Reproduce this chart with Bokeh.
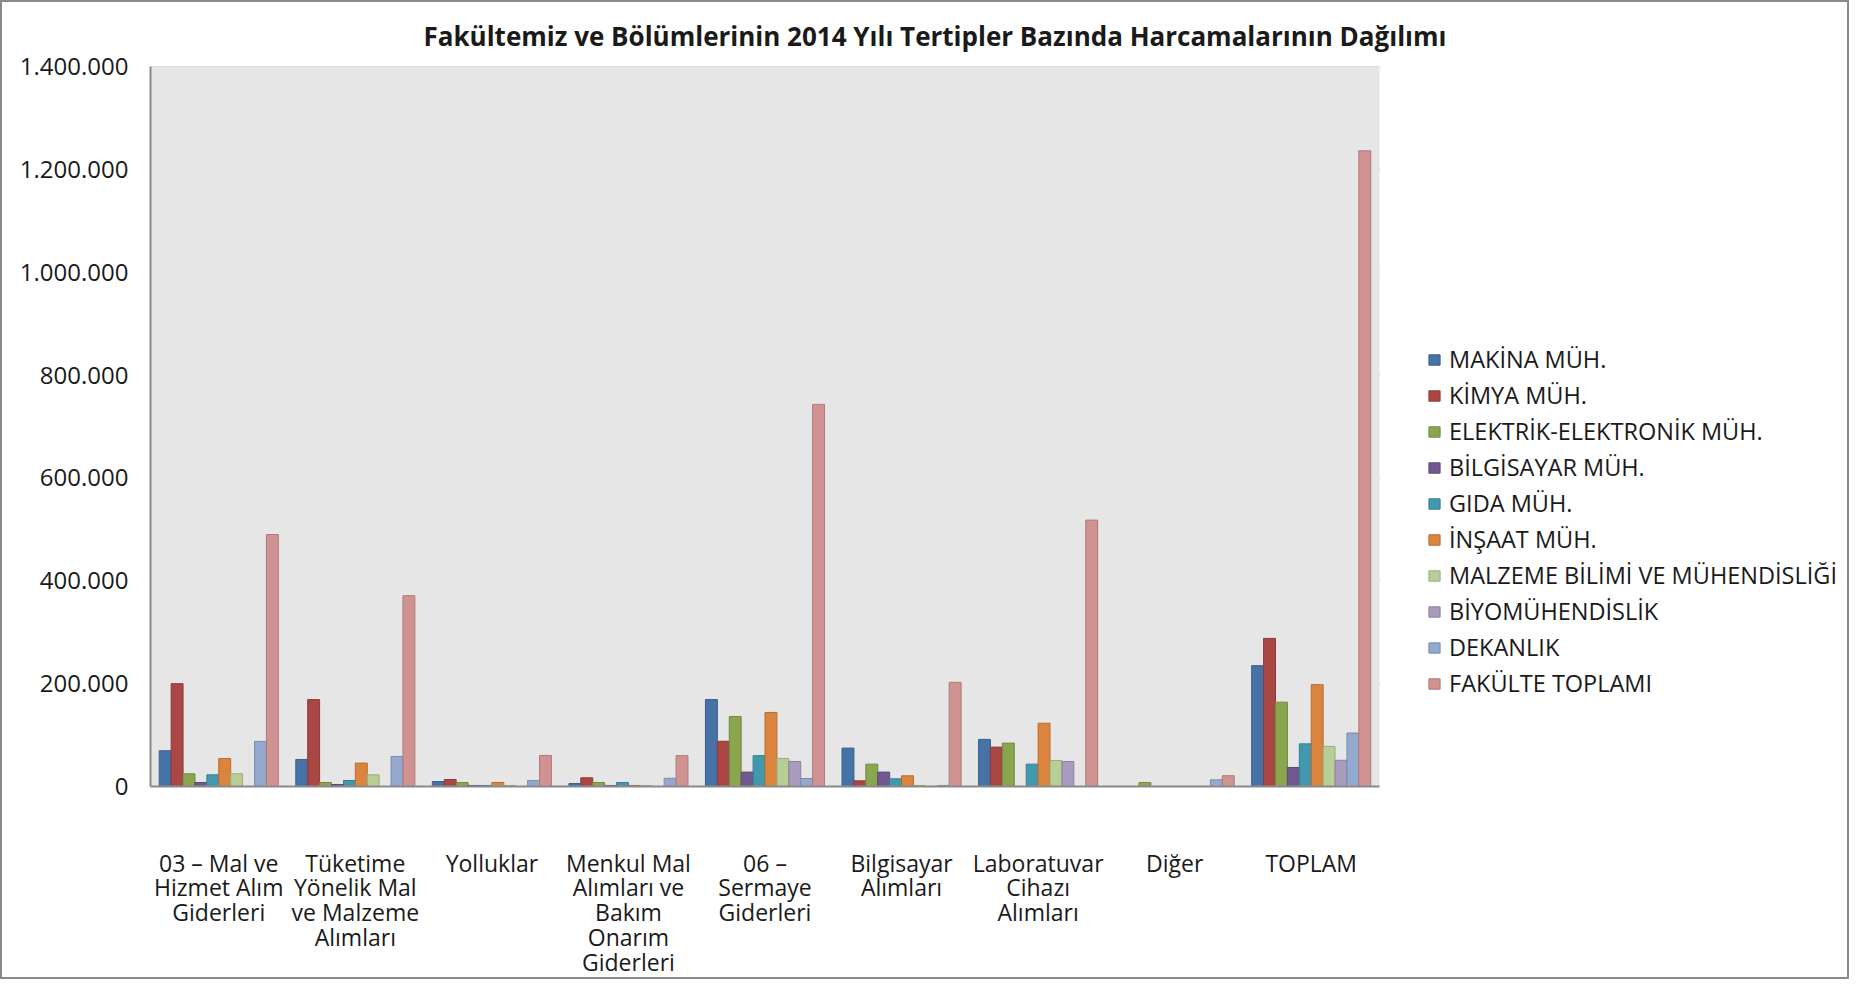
from bokeh.plotting import figure
from bokeh.models import (Range1d, ColumnDataSource, FixedTicker, Legend, LegendItem, Title,
                          BoxAnnotation)
from bokeh.transform import dodge
from bokeh.embed import file_html
from bokeh.resources import INLINE

title_text = "Fakültemiz ve Bölümlerinin 2014 Yılı Tertipler Bazında Harcamalarının Dağılımı"

categories = [
    "03 – Mal ve\nHizmet Alım\nGiderleri",
    "Tüketime\nYönelik Mal\nve Malzeme\nAlımları",
    "Yolluklar",
    "Menkul Mal\nAlımları ve\nBakım\nOnarım\nGiderleri",
    "06 –\nSermaye\nGiderleri",
    "Bilgisayar\nAlımları",
    "Laboratuvar\nCihazı\nAlımları",
    "Diğer",
    "TOPLAM",
]

series_names = [
    "MAKİNA MÜH.",
    "KİMYA MÜH.",
    "ELEKTRİK-ELEKTRONİK MÜH.",
    "BİLGİSAYAR MÜH.",
    "GIDA MÜH.",
    "İNŞAAT MÜH.",
    "MALZEME BİLİMİ VE MÜHENDİSLİĞİ",
    "BİYOMÜHENDİSLİK",
    "DEKANLIK",
    "FAKÜLTE TOPLAMI",
]

makina     = [69500, 52600, 9700, 5800, 169000, 74700, 91600, 0, 235000]
kimya      = [200000, 169000, 13600, 16900, 88000, 11000, 76600, 0, 288000]
elektrik   = [24700, 7800, 7800, 7800, 136000, 43500, 84400, 7800, 164000]
bilgisayar = [7800, 3900, 2000, 2000, 28000, 28000, 0, 0, 37000]
gida       = [22700, 11700, 2000, 7800, 60000, 15000, 43500, 0, 83000]
insaat     = [54500, 45500, 7800, 2000, 144000, 20800, 123000, 0, 198000]
malzeme    = [24700, 22700, 2000, 1500, 54500, 2000, 50600, 0, 78000]
biyomuh    = [0, 0, 0, 0, 48700, 0, 48700, 0, 51000]
dekanlik   = [87700, 58400, 11700, 16000, 15600, 2000, 0, 13000, 104000]
fakulte    = [490000, 371000, 60400, 60000, 743000, 202600, 518000, 21000, 1236000]

series_values = [makina, kimya, elektrik, bilgisayar, gida, insaat, malzeme, biyomuh, dekanlik, fakulte]

fill_colors = ["#4572A7", "#AA4643", "#89A54E", "#71588F", "#4198AF", "#DB843D",
               "#B9CD96", "#A99BBD", "#93A9CF", "#D19392"]
line_colors = ["#3A5F8C", "#8E3A38", "#718A40", "#5E4977", "#367F92", "#B66D32",
               "#9AAB7D", "#8D819D", "#7A8DAC", "#AE7A79"]

y_ticks = [0, 200000, 400000, 600000, 800000, 1000000, 1200000, 1400000]
y_tick_labels = ["0", "200.000", "400.000", "600.000", "800.000", "1.000.000", "1.200.000", "1.400.000"]

n_cat = len(categories)
cat_pos = [i + 0.5 for i in range(n_cat)]

data = {"xc": cat_pos}
keys = []
for i, vals in enumerate(series_values):
    k = "s%d" % i
    keys.append(k)
    data[k] = vals
source = ColumnDataSource(data)

# frame spans to the right edge so the legend can sit inside it;
# the category area (0..n_cat) occupies the left part
left_border = 148
right_border = 8
fig_w = 1849
area_px = 1229
frame_px = fig_w - left_border - right_border
x_end = n_cat * frame_px / area_px

p = figure(
    width=fig_w, height=979,
    x_range=Range1d(0, x_end),
    y_range=Range1d(0, y_ticks[-1]),
    output_backend="svg", toolbar_location=None,
    min_border_left=left_border, min_border_right=right_border,
    min_border_top=64, min_border_bottom=194,
)
p.styles = {"border": "2px solid #8a8a8a"}
p.background_fill_color = "white"
p.border_fill_color = "white"
p.outline_line_color = None

p.title = Title(text=title_text, align="left", offset=273, standoff=26,
                text_font="Open Sans", text_font_size="26px", text_font_style="bold",
                text_color="#1a1a1a")

# plot area background
p.add_layout(BoxAnnotation(left=0, right=n_cat, bottom=0, top=y_ticks[-1],
                           fill_color="#E6E6E6", fill_alpha=1.0, line_color=None,
                           level="underlay"))
# horizontal gridlines limited to the plot area
grid_src = ColumnDataSource({"y": y_ticks[1:], "x0": [0] * (len(y_ticks) - 1),
                             "x1": [n_cat] * (len(y_ticks) - 1)})
p.segment(x0="x0", x1="x1", y0="y", y1="y", source=grid_src,
          line_color="#ABABAB", line_width=2, level="underlay")

bar_w = 0.0872
items = []
for i, k in enumerate(keys):
    r = p.vbar(x=dodge("xc", (i - 4.5) * bar_w), top=k, width=bar_w,
               source=source, fill_color=fill_colors[i], line_color=line_colors[i], line_width=1)
    items.append(LegendItem(label=series_names[i], renderers=[r]))

legend = Legend(items=items, location=(1277, 87), orientation="vertical")
legend.border_line_color = None
legend.background_fill_alpha = 0
legend.padding = 0
legend.margin = 0
legend.spacing = 4
legend.label_height = 20
legend.glyph_height = 13
legend.glyph_width = 14
legend.label_standoff = 8
legend.label_text_font = "Open Sans"
legend.label_text_font_size = "23.5px"
legend.label_text_color = "#1a1a1a"
p.add_layout(legend, "center")

# y axis
p.yaxis.ticker = FixedTicker(ticks=y_ticks)
p.yaxis.major_label_overrides = {t: l for t, l in zip(y_ticks, y_tick_labels)}
p.yaxis.major_label_text_font = "Open Sans"
p.yaxis.major_label_text_font_size = "24px"
p.yaxis.major_label_text_color = "#1a1a1a"
p.yaxis.major_tick_out = 0
p.yaxis.major_tick_in = 0
p.yaxis.minor_tick_out = 0
p.yaxis.minor_tick_in = 0
p.yaxis.major_label_standoff = 22
p.yaxis.axis_line_color = "#8a8a8a"
p.yaxis.axis_line_width = 2

# x axis (category labels at group centres)
p.xaxis.ticker = FixedTicker(ticks=cat_pos)
p.xaxis.major_label_overrides = {x: c for x, c in zip(cat_pos, categories)}
p.xaxis.bounds = (0, n_cat)
p.xaxis.major_label_text_font = "Open Sans"
p.xaxis.major_label_text_font_size = "23px"
p.xaxis.major_label_text_color = "#1a1a1a"
p.xaxis.major_label_text_line_height = 0.78
p.xaxis.major_tick_out = 0
p.xaxis.major_tick_in = 0
p.xaxis.minor_tick_out = 0
p.xaxis.minor_tick_in = 0
p.xaxis.major_label_standoff = 60
p.xaxis.axis_line_color = "#8a8a8a"
p.xaxis.axis_line_width = 2
p.xaxis.major_label_orientation = "horizontal"

p.xgrid.grid_line_color = None
p.ygrid.grid_line_color = None

open("out.html", "w").write(file_html(p, INLINE))
